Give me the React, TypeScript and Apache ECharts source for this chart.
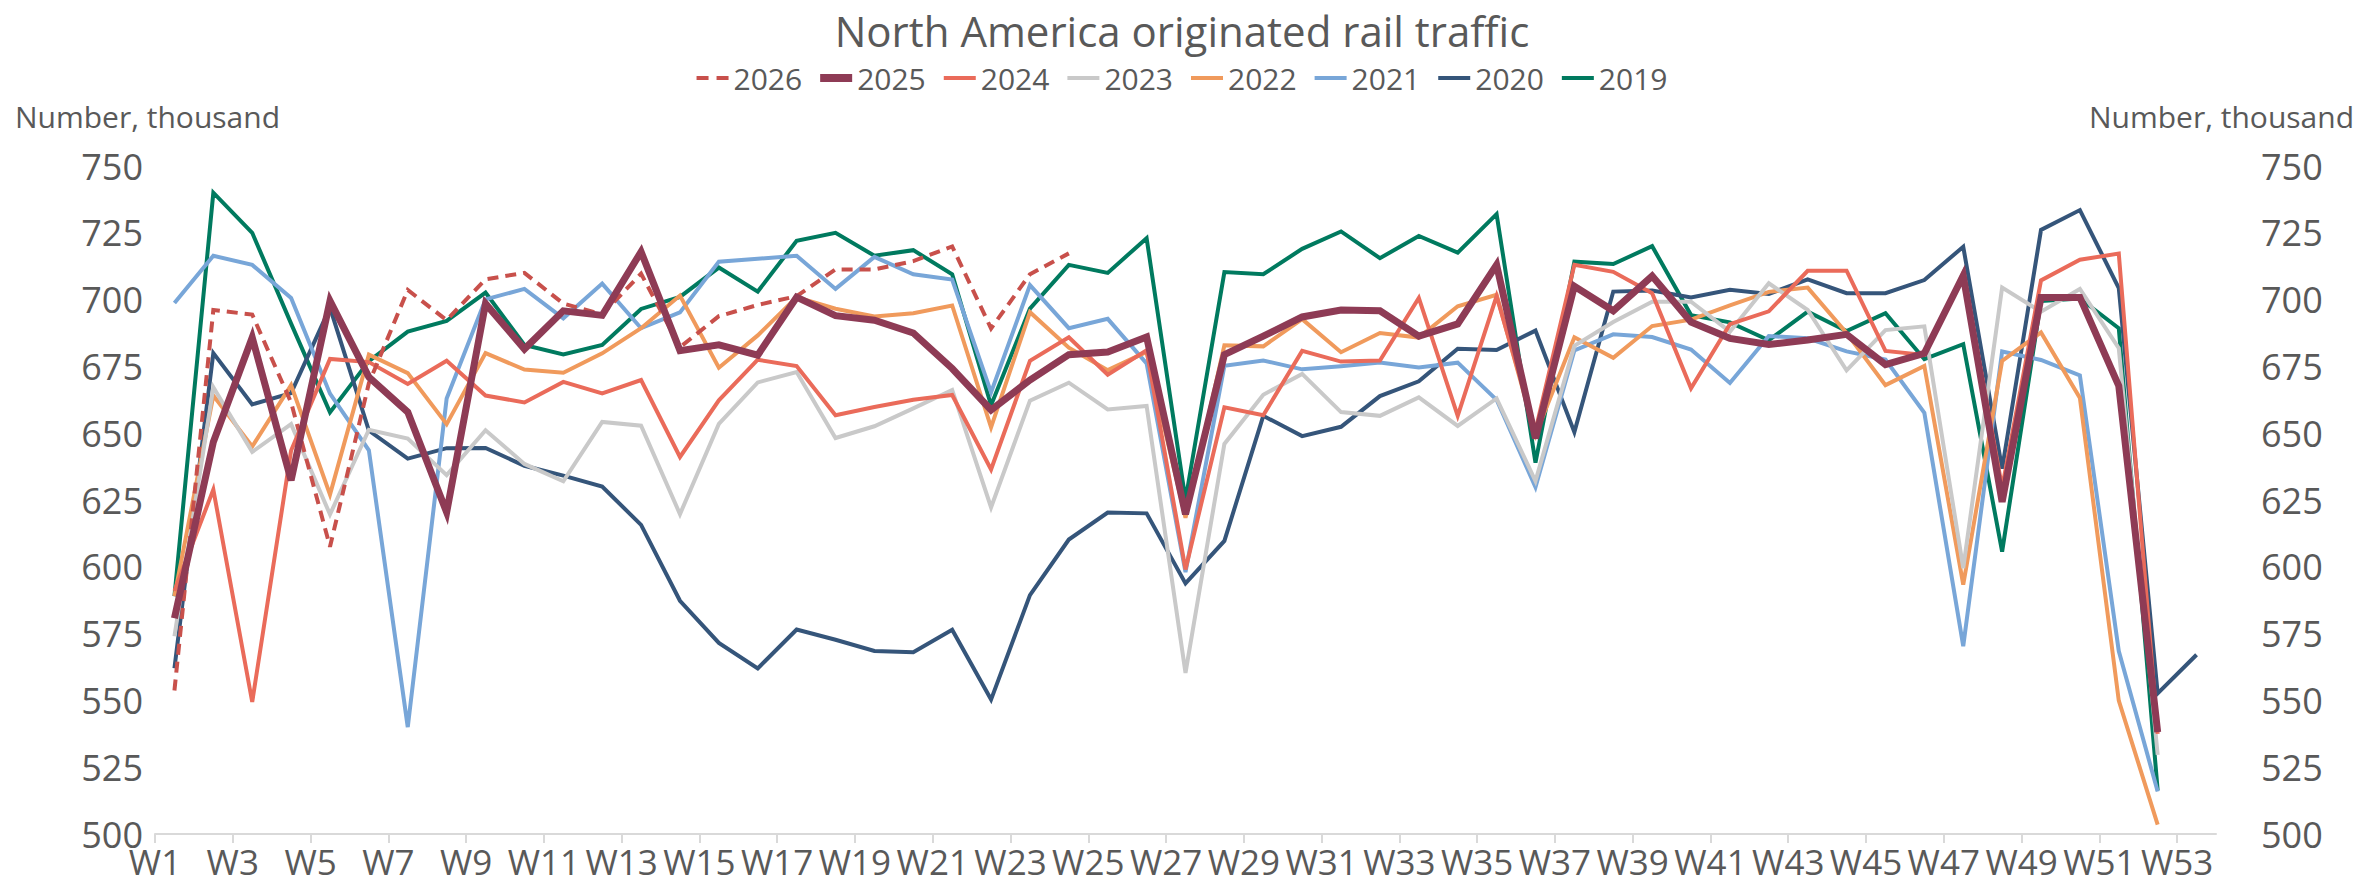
import React, { useEffect, useRef } from "react";
import * as echarts from "echarts";

const weeks = Array.from({ length: 53 }, (_, i) => `W${i + 1}`);
const tickSlots = [...weeks, ""];

const y2026 = [553.7, 696.1, 694.4, 661.5, 607.5, 668.7, 703.6, 692.3, 707.6, 710.0, 698.5, 694.5, 709.7, 682.2, 693.8, 698.0, 701.3, 711.3, 711.3, 714.4, 719.9, 689.2, 709.5, 717.3];
const y2025 = [580.7, 646.7, 685.8, 632.4, 699.5, 671.0, 657.9, 620.4, 698.5, 681.5, 695.8, 694.1, 717.9, 680.9, 683.1, 679.2, 700.9, 694.0, 692.3, 687.5, 674.2, 658.7, 669.9, 679.4, 680.4, 686.0, 619.7, 679.4, 686.3, 693.5, 696.1, 695.8, 686.3, 690.9, 713.0, 648.1, 705.0, 695.8, 708.8, 691.6, 685.5, 683.2, 684.9, 687.0, 675.7, 679.9, 709.0, 624.3, 700.8, 700.8, 667.7, 538.1];
const y2024 = [591.0, 628.9, 549.4, 643.5, 677.8, 676.6, 668.4, 677.1, 664.1, 661.5, 669.2, 664.9, 669.9, 641.1, 662.3, 677.5, 675.1, 656.7, 659.8, 662.5, 664.3, 636.4, 677.1, 685.9, 671.9, 681.0, 599.0, 659.7, 656.7, 680.8, 676.8, 677.2, 700.6, 656.5, 701.3, 651.0, 713.0, 710.4, 702.4, 666.8, 690.8, 695.6, 710.8, 710.8, 680.8, 679.3, 710.0, 629.6, 707.2, 714.9, 717.2, 537.5];
const y2023 = [574.0, 667.2, 643.0, 653.4, 619.6, 651.3, 648.0, 634.3, 651.1, 638.5, 632.0, 654.2, 652.8, 619.7, 653.5, 669.0, 672.9, 648.2, 652.6, 659.3, 666.2, 622.2, 662.2, 668.9, 658.9, 660.2, 560.3, 646.0, 664.4, 672.2, 657.9, 656.5, 663.4, 652.7, 663.0, 632.1, 682.7, 691.6, 699.2, 699.2, 688.0, 706.1, 696.1, 673.5, 688.6, 690.0, 599.5, 704.5, 695.5, 704.0, 681.8, 529.6];
const y2022 = [589.0, 664.1, 645.0, 668.0, 627.0, 679.4, 672.5, 653.4, 680.0, 673.8, 672.6, 679.9, 689.3, 701.5, 674.5, 686.6, 700.9, 696.6, 693.7, 694.9, 697.8, 652.2, 695.3, 682.0, 673.6, 680.4, 618.3, 682.9, 682.5, 692.7, 680.3, 687.5, 685.8, 697.5, 701.8, 649.3, 685.9, 678.2, 690.1, 692.5, 697.8, 702.9, 704.5, 687.5, 668.0, 675.2, 593.3, 677.1, 687.7, 663.2, 549.9, 503.5];
const y2021 = [698.7, 716.4, 713.0, 700.6, 664.8, 643.6, 540.0, 663.0, 700.1, 704.0, 693.0, 706.0, 689.3, 695.2, 714.2, 715.3, 716.4, 704.0, 716.0, 709.5, 707.5, 665.3, 705.4, 689.3, 692.8, 676.1, 598.0, 675.2, 677.2, 673.9, 675.1, 676.5, 674.6, 676.4, 662.5, 629.8, 681.0, 687.0, 686.0, 681.3, 668.8, 686.4, 685.5, 680.6, 677.6, 657.6, 570.3, 680.6, 677.4, 671.6, 568.5, 515.9];
const y2020 = [562.0, 680.0, 660.8, 665.0, 697.0, 651.0, 640.5, 644.4, 644.5, 637.8, 634.1, 630.0, 615.7, 587.3, 571.5, 562.0, 576.5, 572.7, 568.5, 568.0, 576.4, 550.3, 589.4, 610.2, 620.3, 620.0, 593.8, 609.7, 656.5, 648.9, 652.4, 663.9, 669.4, 681.6, 681.1, 688.4, 650.4, 703.0, 703.4, 700.8, 703.7, 702.1, 707.6, 702.4, 702.4, 707.3, 719.8, 636.7, 726.1, 733.5, 704.3, 552.6, 567.1];
const y2019 = [589.0, 740.0, 725.0, 691.0, 657.8, 677.0, 688.0, 692.0, 702.6, 683.0, 679.5, 683.0, 696.5, 701.0, 712.0, 703.0, 722.0, 725.0, 716.4, 718.5, 709.5, 660.5, 696.6, 713.0, 710.0, 723.0, 625.0, 710.3, 709.5, 719.0, 725.5, 715.5, 723.8, 717.6, 732.0, 639.0, 714.2, 713.3, 720.0, 694.2, 691.5, 684.8, 695.5, 688.2, 694.9, 677.7, 683.3, 605.7, 699.5, 700.4, 689.3, 516.3];

const yearNames = ["2026", "2025", "2024", "2023", "2022", "2021", "2020", "2019"];

const TEXT = "#595959";
const FONT = "Open Sans";

const ICON_THIN = "path://M0,0h32v4h-32z";
const ICON_THICK = "path://M0,0h32v8h-32z";
const ICON_DASH = "path://M0,0h12v4h-12z M20,0h12v4h-12z";

export default function App() {
  const ref = useRef<HTMLDivElement>(null);

  useEffect(() => {
    if (!ref.current) return;
    const chart = echarts.init(ref.current, null, { renderer: "svg" });

    const mk = (name: string, data: number[], color: string, width: number, z: number, type: any = "solid") => ({
      name,
      type: "line",
      data,
      xAxisIndex: 0,
      yAxisIndex: 0,
      symbol: "none",
      showSymbol: false,
      z,
      lineStyle: { color, width, type, cap: "butt", join: "miter" },
      itemStyle: { color },
    });

    const yAxisBase = {
      type: "value",
      min: 500,
      max: 750,
      interval: 25,
      axisLine: { show: false },
      axisTick: { show: false },
      splitLine: { show: false },
    };

    const legendData = yearNames.map((n) => ({
      name: n,
      icon: n === "2026" ? ICON_DASH : n === "2025" ? ICON_THICK : ICON_THIN,
    }));

    chart.setOption({
      animation: false,
      textStyle: { fontFamily: FONT },
      title: {
        text: "North America originated rail traffic",
        left: "center",
        top: 4,
        textStyle: { fontFamily: FONT, fontSize: 42, fontWeight: "normal", color: TEXT },
      },
      legend: {
        data: legendData,
        top: 58,
        left: "center",
        itemWidth: 32,
        itemHeight: 10,
        itemGap: 18,
        textStyle: { fontFamily: FONT, fontSize: 30, color: TEXT },
      },
      grid: { left: 155, right: 148, top: 166, bottom: 53, containLabel: false },
      xAxis: [
        { type: "category", data: weeks, boundaryGap: true, show: false },
        {
          type: "category",
          data: tickSlots,
          boundaryGap: false,
          position: "bottom",
          axisLine: { onZero: false, lineStyle: { color: "#D9D9D9", width: 2 } },
          axisTick: { interval: 1, length: 9, lineStyle: { color: "#D9D9D9", width: 2 } },
          axisLabel: { interval: 1, fontSize: 35, lineHeight: 35, color: TEXT, margin: 10, fontFamily: FONT },
          splitLine: { show: false },
        },
      ],
      yAxis: [
        { ...yAxisBase, position: "left", axisLabel: { fontSize: 36, lineHeight: 20, color: TEXT, margin: 12, fontFamily: FONT } },
        { ...yAxisBase, position: "right", axisLabel: { fontSize: 36, lineHeight: 20, color: TEXT, margin: 45, fontFamily: FONT } },
      ],
      graphic: [
        {
          type: "text",
          left: 15,
          top: 101,
          style: { text: "Number, thousand", fontSize: 30, fill: TEXT, fontFamily: FONT },
        },
        {
          type: "text",
          right: 10,
          top: 101,
          style: { text: "Number, thousand", fontSize: 30, fill: TEXT, fontFamily: FONT },
        },
      ],
      series: [
        mk("2019", y2019, "#007A5F", 4, 2),
        mk("2020", y2020, "#35557A", 4, 2),
        mk("2021", y2021, "#78A6D8", 4, 2),
        mk("2022", y2022, "#F09A5C", 4, 2),
        mk("2023", y2023, "#C9C9C9", 4, 2),
        mk("2024", y2024, "#EA6B5A", 4, 2),
        mk("2026", y2026, "#C8504B", 4, 3, [11, 7]),
        mk("2025", y2025, "#8E3B55", 7, 4),
      ],
    });

    return () => chart.dispose();
  }, []);

  return (
    <div
      ref={ref}
      style={{ position: "fixed", left: 0, top: 0, width: 2364, height: 887, background: "#fff" }}
    />
  );
}
